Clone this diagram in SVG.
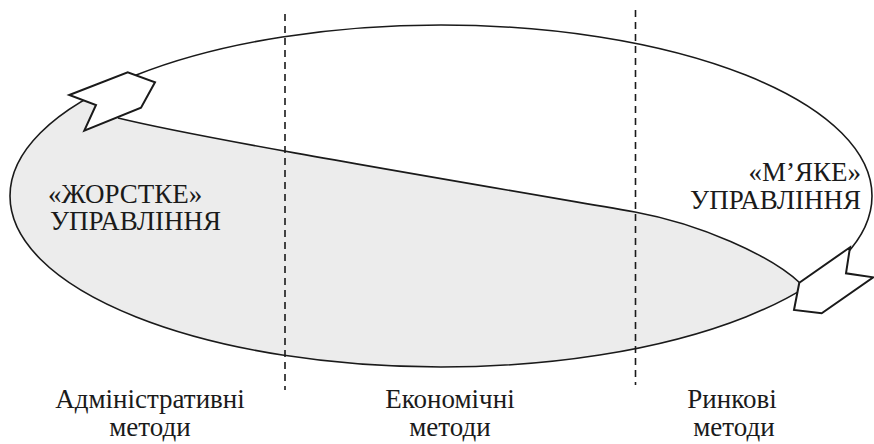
<svg xmlns="http://www.w3.org/2000/svg" width="874" height="444" viewBox="0 0 874 444">
<style>
.line{fill:none;stroke:#1a1a1a;stroke-width:1.6}
.dash{fill:none;stroke:#1a1a1a;stroke-width:1.6;stroke-dasharray:7 5}
.arrow{fill:#ffffff;stroke:#1a1a1a;stroke-width:2;stroke-linejoin:miter}
.shade{fill:#ececec;stroke:none}
text{font-family:"Times New Roman",Times,"Liberation Serif","DejaVu Serif","Noto Serif",FreeSerif,serif;font-size:27px;fill:#1a1a1a}
</style>
<rect width="874" height="444" fill="#ffffff"/>
<g id="shaded-region">
<path class="shade" d="M118,118 C200,138 420,175 635,212 C700,224 770,255 800,283 L797,292.4 A431,171 0 0 1 441,367 A431,171 0 0 1 90,96.8 Z"/>
</g>
<g id="connectors">
<ellipse class="line" cx="441" cy="196" rx="431" ry="171"/>
<path class="line" d="M118,118 C200,138 420,175 635,212 C700,224 770,255 800,283"/>
<line class="dash" x1="285" y1="14" x2="285" y2="390"/>
<line class="dash" x1="635.5" y1="10" x2="635.5" y2="385"/>
</g>
<g id="arrow-left">
<polygon class="arrow" points="69.3,95 127.7,72.3 155,82.3 141,107.7 84.3,130.7 96,105"/>
</g>
<g id="arrow-right">
<polygon class="arrow" points="799.3,282.7 850,247.3 846,273.3 873.3,277.3 821.7,313.3 794,310"/>
</g>
<g id="label-hard">
<text x="48" y="203">«ЖОРСТКЕ»</text>
<text x="50" y="230">УПРАВЛІННЯ</text>
</g>
<g id="label-soft">
<text x="861" y="181" text-anchor="end">«М’ЯКЕ»</text>
<text x="861" y="209" text-anchor="end">УПРАВЛІННЯ</text>
</g>
<g id="label-admin">
<text x="150" y="408" text-anchor="middle">Адміністративні</text>
<text x="150" y="436" text-anchor="middle">методи</text>
</g>
<g id="label-econ">
<text x="450" y="408" text-anchor="middle">Економічні</text>
<text x="450" y="436" text-anchor="middle">методи</text>
</g>
<g id="label-market">
<text x="732" y="408" text-anchor="middle">Ринкові</text>
<text x="734" y="436" text-anchor="middle">методи</text>
</g>
</svg>
